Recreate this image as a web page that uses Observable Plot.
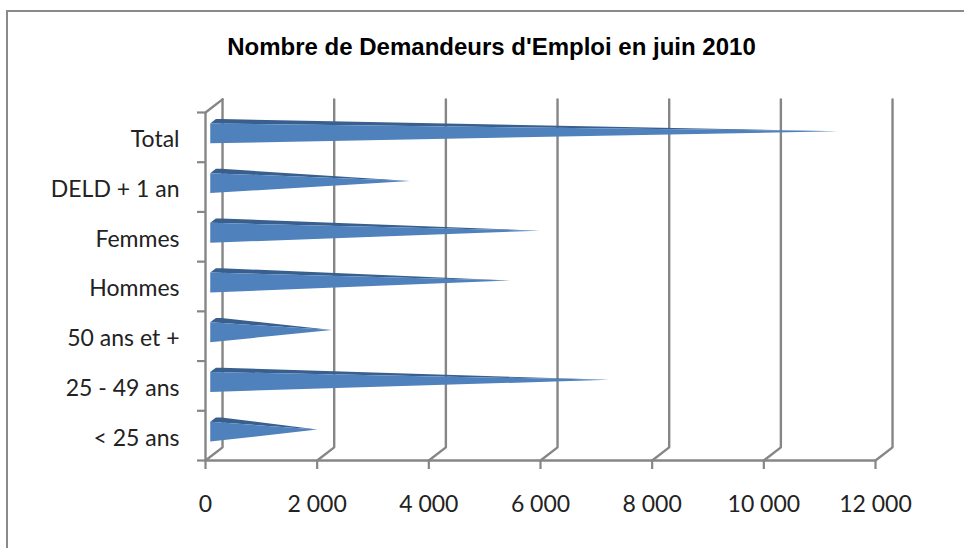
<!DOCTYPE html>
<html><head><meta charset="utf-8">
<script src="https://cdn.jsdelivr.net/npm/d3@7"></script>
<script src="https://cdn.jsdelivr.net/npm/@observablehq/plot@0.6"></script>
<style>
html,body{margin:0;padding:0;background:#fff;overflow:hidden}
#frame{position:absolute;left:6px;top:10px;width:958px;height:538px;border-left:2px solid #8a8a8a;border-top:2px solid #8a8a8a;box-sizing:border-box}
#chart{position:absolute;left:0;top:0}
</style></head><body>
<div id="frame"></div><div id="chart"></div>
<script>
const titleText = "Nombre de Demandeurs d'Emploi en juin 2010";
const categories = ["< 25 ans","25 - 49 ans","50 ans et +","Hommes","Femmes","DELD + 1 an","Total"];
const values = [1850,7080,2110,5310,5830,3510,11180];
const xTicks = [0,2000,4000,6000,8000,10000,12000];
const gray = "#868686", front = "#4f81bd", top_ = "#385f8e";

// 3D projection, in data units: depth 0 = front plane, depth 1 = back wall
const depthX = 305, depthY = 0.265;
const P = (v, lvl, d) => ({x: v + d*depthX, y: lvl + d*depthY});

const n = categories.length;
const walls = xTicks.flatMap((t,i) => [
  {...P(t,0,0), z:"f"+i}, {...P(t,0,1), z:"f"+i}, {...P(t,n,1), z:"f"+i}
]);
const leftTop = [P(0,n,0), P(0,n,1)];

const faces = categories.flatMap((c,i) => {
  const v = values[i], m = i+0.58, half = 0.2, inset = 85;
  const tip = P(v, m-0.09, 0.5);
  return [
    {f:"top", z:c+"t", pts:[P(inset,m+half,0), P(inset,m+half,0.33), P(inset+100,m+half,0.33), tip]},
    {f:"front", z:c+"f", pts:[P(inset,m-half,0), P(inset,m+half,0), tip]}
  ];
});
const flat = k => faces.filter(d=>d.f===k).flatMap(d=>d.pts.map(p=>({...p,z:d.z})));

const fmt = d => d===0 ? "0" : d3.format(",")(d).replace(","," ");
const labelFont = "Lato, Open Sans, sans-serif";

const plot = Plot.plot({
  width:964, height:548,
  marginLeft:205, marginRight:89, marginTop:112, marginBottom:88,
  style:{background:"transparent"},
  x:{domain:[0,12000], label:null},
  y:{domain:[0,n], label:null},
  marks:[
    Plot.line(walls,{x:"x",y:"y",z:"z",stroke:gray,strokeWidth:2.4}),
    Plot.line(leftTop,{x:"x",y:"y",stroke:gray,strokeWidth:2.4}),
    Plot.ruleX([0],{y1:0,y2:n,stroke:gray,strokeWidth:2.4}),
    Plot.ruleY([0],{stroke:gray,strokeWidth:2.4}),
    Plot.line(flat("top"),{x:"x",y:"y",z:"z",fill:top_,stroke:"none"}),
    Plot.line(flat("front"),{x:"x",y:"y",z:"z",fill:front,stroke:"none"}),
    Plot.axisX({ticks:xTicks,tickFormat:fmt,tickSize:9,tickPadding:26,stroke:gray,strokeWidth:2.2,
      color:"#222",fontSize:23,fontFamily:labelFont,label:null}),
    Plot.axisY({ticks:d3.range(0,n+1),tickFormat:()=>"",tickSize:8,stroke:gray,strokeWidth:2.2,label:null}),
    Plot.text(categories,{x:0,y:(d,i)=>i+0.45,text:d=>d,textAnchor:"end",dx:-26,
      fill:"#222",fontSize:23,fontFamily:labelFont}),
    Plot.text([titleText],{frameAnchor:"top",dy:-75,dx:-49,fontWeight:"bold",fill:"#000",
      fontSize:24,fontFamily:"Liberation Sans, Arial, sans-serif"})
  ]
});
document.getElementById("chart").appendChild(plot);
</script></body></html>
